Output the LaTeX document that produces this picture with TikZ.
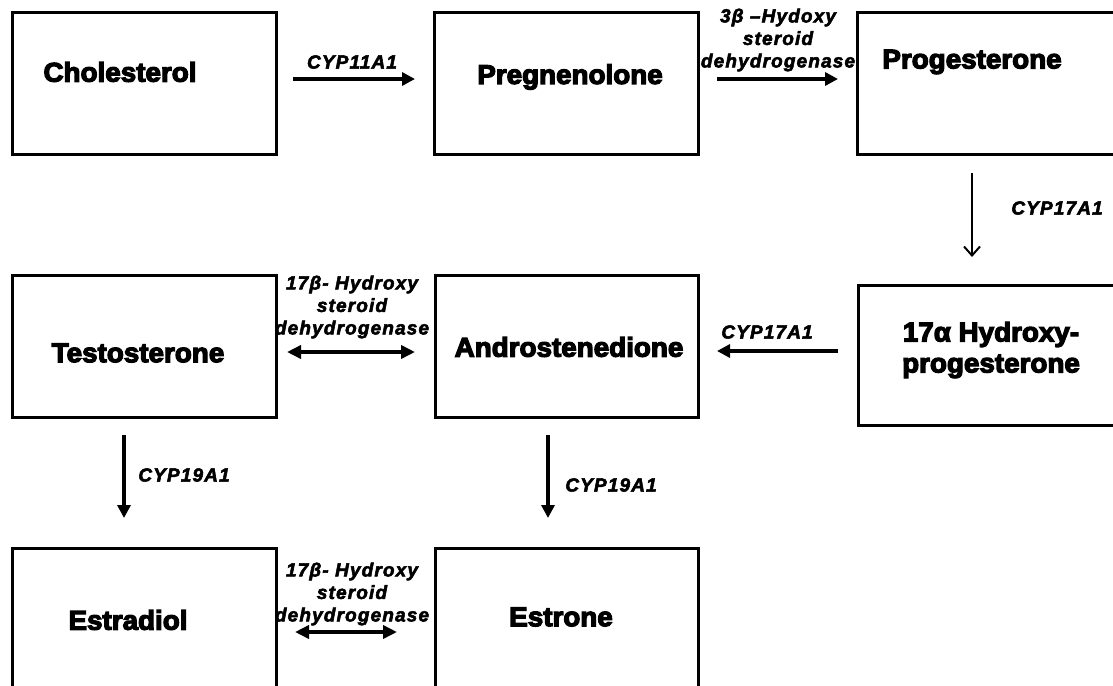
\documentclass[tikz,border=0pt]{standalone}
\usepackage{fontspec}
\setmainfont{Liberation Sans}
\usetikzlibrary{arrows.meta}
\tikzset{
  box/.style={draw, line width=3pt, rectangle, inner sep=0pt},
  boxtext/.style={font=\fontsize{27}{31}\selectfont\bfseries\addfontfeature{FakeBold=4.5,FakeStretch=1.03}, align=center, inner sep=0pt},
  enz/.style={font=\fontsize{19}{22.5}\selectfont\bfseries\itshape\addfontfeature{FakeBold=2.8,LetterSpace=6}, align=center, inner sep=0pt},
  bold arrow/.style={line width=4pt, -{Triangle[length=13pt,width=13pt]}},
  bold double/.style={line width=4pt, {Triangle[length=14pt,width=13pt]}-{Triangle[length=14pt,width=13pt]}},
  thin arrow/.style={line width=2pt, -{Straight Barb[length=9pt,width=16pt,line width=2pt]}}
}
\begin{document}
\begin{tikzpicture}[x=1pt,y=-1pt]
\useasboundingbox (0,0) rectangle (1113,685);
\fill[white] (0,0) rectangle (1113,685);
\clip (0,0) rectangle (1113,685);
% boxes
\node[box, minimum width=264pt, minimum height=141pt] (chol) at (144,83.5) {};
\node[box, minimum width=264pt, minimum height=141pt] (preg) at (566,83.5) {};
\node[box, minimum width=268pt, minimum height=141pt] (prog) at (991,83.5) {};
\node[box, minimum width=267pt, minimum height=140pt] (hyd) at (991.5,355) {};
\node[box, minimum width=264pt, minimum height=142pt] (testo) at (144,346) {};
\node[box, minimum width=263pt, minimum height=142pt] (andro) at (566.5,346) {};
\node[box, minimum width=264pt, minimum height=157pt] (estd) at (144,626.5) {};
\node[box, minimum width=263pt, minimum height=157pt] (estr) at (566.5,626.5) {};
% box texts
\node[boxtext] (tchol) at (120,72) {Cholesterol};
\node[boxtext] (tpreg) at (570,77) {Pregnenolone};
\node[boxtext] (tprog) at (972,62) {Progesterone};
\node[boxtext] (thyd) at (991,350) {17α Hydroxy-\\progesterone};
\node[boxtext] (ttesto) at (138,353) {Testosterone};
\node[boxtext] (tandro) at (569,347) {Androstenedione};
\node[boxtext] (testd) at (128,620) {Estradiol};
\node[boxtext] (testr) at (561,617) {Estrone};
% arrow end points
\coordinate (a1s) at (293,79);  \coordinate (a1e) at (415,79);
\coordinate (a2s) at (717,79);  \coordinate (a2e) at (838,79);
\coordinate (a3s) at (972,173); \coordinate (a3e) at (972,257);
\coordinate (a4s) at (838,351); \coordinate (a4e) at (717,351);
\coordinate (a5s) at (287,352); \coordinate (a5e) at (415,352);
\coordinate (a6s) at (124,435); \coordinate (a6e) at (124,518);
\coordinate (a7s) at (548,435); \coordinate (a7e) at (548,518);
\coordinate (a8s) at (295,632); \coordinate (a8e) at (397,632);
% connectors
\draw[bold arrow] (a1s) -- (a1e);
\draw[bold arrow] (a2s) -- (a2e);
\draw[thin arrow] (a3s) -- (a3e);
\draw[bold arrow] (a4s) -- (a4e);
\draw[bold double] (a5s) -- (a5e);
\draw[bold arrow] (a6s) -- (a6e);
\draw[bold arrow] (a7s) -- (a7e);
\draw[bold double] (a8s) -- (a8e);
% enzyme labels
\node[enz] (l1) at (352,62) {CYP11A1};
\node[enz] (l2) at (778,40) {3β –Hydoxy\\steroid\\dehydrogenase};
\node[enz] (l3) at (1057,208) {CYP17A1};
\node[enz] (l4) at (767,332) {CYP17A1};
\node[enz] (l5) at (352,307) {17β- Hydroxy\\steroid\\dehydrogenase};
\node[enz] (l6) at (184,475) {CYP19A1};
\node[enz] (l7) at (611,485) {CYP19A1};
\node[enz] (l8) at (352,594) {17β- Hydroxy\\steroid\\dehydrogenase};
\end{tikzpicture}
\end{document}
